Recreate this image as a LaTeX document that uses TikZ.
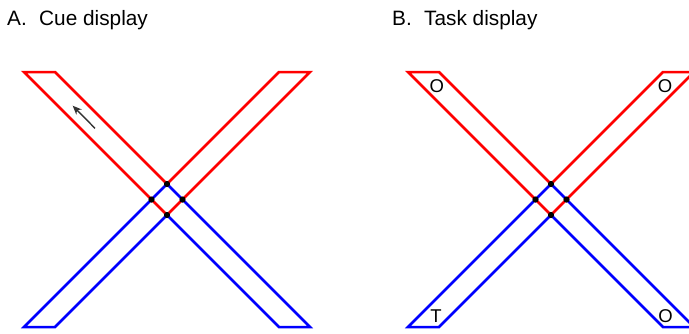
\documentclass[tikz,border=0pt]{standalone}
\usepackage{fontspec}
\setmainfont{Liberation Sans}
\usetikzlibrary{arrows.meta}
\begin{document}
\begin{tikzpicture}[x=1pt,y=-1pt,
  redbar/.style={draw=red,line width=2.5pt},
  bluebar/.style={draw=blue,line width=2.5pt},
  crossdot/.style={fill=black,draw=none},
  title/.style={font=\fontsize{20.8}{24}\selectfont,anchor=base west,inner sep=0pt},
  letter/.style={font=\fontsize{18.5}{20}\selectfont,inner sep=0pt},
  cuearrow/.style={draw=black!80,line width=1.4pt,-{Stealth[length=9pt,width=7.5pt]}}]
\useasboundingbox (0,0) rectangle (689,333);
\clip (0,0) rectangle (689,333);
\fill[white] (0,0) rectangle (689,333);
\foreach \dx in {0,384}{
  \begin{scope}[shift={(\dx,0)}]
    \draw[redbar] (24,72) -- (55,72) -- (167,184) -- (279,72) -- (310,72) -- (167,215) -- cycle;
    \draw[bluebar] (24,327) -- (167,184) -- (310,327) -- (279,327) -- (167,215) -- (55,327) -- cycle;
    \foreach \p in {(167,184),(151.5,199.5),(182.5,199.5),(167,215)}
      \fill[crossdot] \p circle (3.1);
  \end{scope}
}
\node[title] (ta) at (7,25) {A.};
\node[title] (tac) at (39,25) {Cue display};
\node[title] (tb) at (392,25) {B.};
\node[title] (tbc) at (424,25) {Task display};
\coordinate (arrtail) at (95,128.3);
\coordinate (arrtip) at (72.7,105.7);
\draw[cuearrow] (arrtail) -- (arrtip);
\node[letter] (o1) at (436.7,86.3) {O};
\node[letter] (o2) at (665,86.3) {O};
\node[letter] (t1) at (436,316.5) {T};
\node[letter] (o3) at (665.5,316.5) {O};
\end{tikzpicture}
\end{document}
